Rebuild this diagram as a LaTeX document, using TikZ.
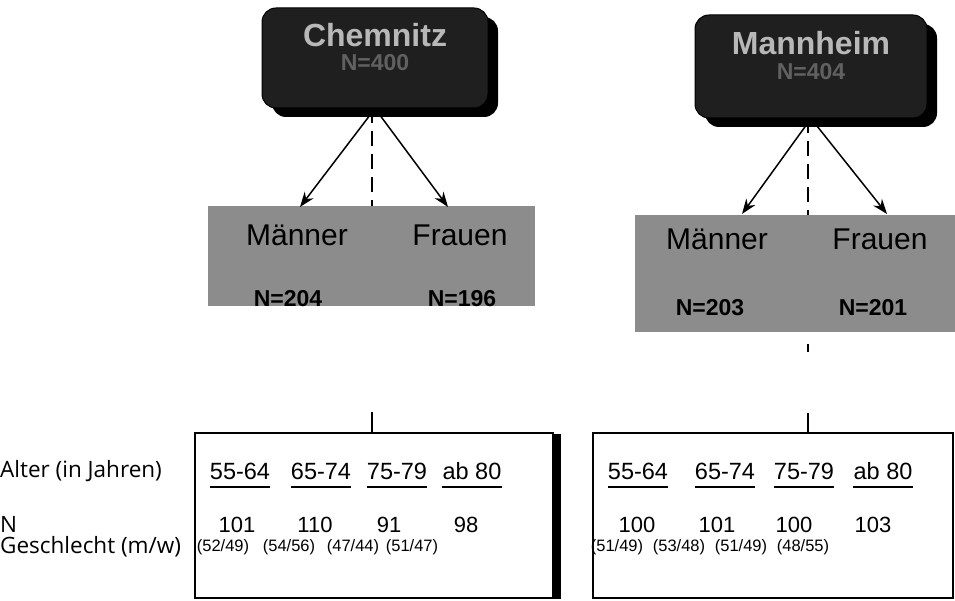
\documentclass[tikz,border=0pt]{standalone}
\usepackage{fontspec}
\setmainfont{Liberation Sans}
\newfontfamily\labelfont{Open Sans}
\usetikzlibrary{arrows.meta,shadows}
\tikzset{
  cityBox/.style={rounded corners=14pt, fill=black!88, draw=black, line width=1pt,
    minimum width=226pt, minimum height=100pt, inner sep=0pt,
    drop shadow={shadow xshift=10pt, shadow yshift=-9pt, fill=black, opacity=1}},
  cityTitle/.style={text=black!28, inner sep=0pt, font=\fontsize{32}{36}\selectfont\bfseries},
  cityN/.style={text=black!62, inner sep=0pt, font=\fontsize{23}{26}\selectfont\bfseries},
  grayBox/.style={fill=black!45, draw=none, inner sep=0pt},
  sexText/.style={inner sep=0pt, font=\fontsize{30}{34}\selectfont},
  sexN/.style={inner sep=0pt, font=\fontsize{23}{26}\selectfont\bfseries},
  arr/.style={-{Stealth[length=15pt,width=11pt]}, line width=1.5pt},
  dashline/.style={line width=1.6pt, dash pattern=on 15pt off 8pt},
  tabBox/.style={draw=black, line width=1.4pt, inner sep=0pt, minimum height=165pt},
  rowLabel/.style={anchor=west, inner sep=0pt, font=\labelfont\fontsize{22.5}{26}\selectfont},
  head/.style={inner sep=0pt, font=\fontsize{23.5}{27}\selectfont},
  ulLine/.style={line width=2.5pt},
  val/.style={inner sep=0pt, font=\fontsize{22}{26}\selectfont},
  par/.style={inner sep=0pt, font=\fontsize{16.5}{19}\selectfont},
}
\begin{document}
\begin{tikzpicture}[x=1pt,y=-1pt]
\useasboundingbox (0,0) rectangle (955,601);
% gray gender boxes (drawn first, dashed line goes behind)
\node[grayBox, minimum width=327pt, minimum height=100pt] (chemG) at (371.5,256) {};
\node[grayBox, minimum width=320pt, minimum height=117pt] (mannG) at (795,273.5) {};
% city boxes
\node[cityBox] (chem) at (375,58) {};
\node[cityTitle] (chemT) at (375,35) {Chemnitz};
\node[cityN] (chemN) at (375,63) {N=400};
\node[cityBox, minimum width=232pt, minimum height=103pt] (mann) at (811,66.5) {};
\node[cityTitle] (mannT) at (811,43) {Mannheim};
\node[cityN] (mannN) at (811,72) {N=404};
% gender texts
\node[sexText] (chemM) at (297,235) {Männer};
\node[sexText] (chemF) at (460,235) {Frauen};
\node[sexN] (chemMN) at (288,299) {N=204};
\node[sexN] (chemFN) at (462,299) {N=196};
\node[sexText] (mannM) at (717,239) {Männer};
\node[sexText] (mannF) at (880,239) {Frauen};
\node[sexN] (mannMN) at (710,308) {N=203};
\node[sexN] (mannFN) at (873,308) {N=201};
% arrow targets
\coordinate (chemMa) at (300,207);
\coordinate (chemFa) at (448,207);
\coordinate (mannMa) at (742,214);
\coordinate (mannFa) at (887,214);
\draw[arr] (chem.south) -- (chemMa);
\draw[arr] (chem.south) -- (chemFa);
\draw[arr] (mann.south) -- (mannMa);
\draw[arr] (mann.south) -- (mannFa);
% tables
\node[tabBox, minimum width=358pt] (tabL) at (374,515.5) {};
\draw[line width=7pt] ([xshift=3.5pt,yshift=-2pt]tabL.north east) -- ([xshift=3.5pt]tabL.south east);
\node[tabBox, minimum width=360pt] (tabR) at (773,515.5) {};
% dashed lines
\coordinate (chemD) at (372,108);
\coordinate (mannD) at (808,118);
\draw[dashline] (chemD) -- (chemD |- chemG.north);
\draw[dashline] (mannD) -- (mannD |- mannG.north);
\coordinate (chemL1) at (372,412);
\draw[line width=1.5pt] (chemL1) -- (chemL1 |- tabL.north);
\coordinate (mannL0) at (808,344);
\draw[line width=1.5pt] (mannL0) -- ++(0,8);
\coordinate (mannL1) at (808,413);
\draw[line width=1.5pt] (mannL1) -- (mannL1 |- tabR.north);
% row labels
\node[rowLabel] (lAlter) at (0,471) {Alter (in Jahren)};
\node[rowLabel] (lN) at (0,524) {N};
\node[rowLabel] (lG) at (0,547) {Geschlecht (m/w)};
\coordinate (ulY) at (0,487);
% left table
\node[head] (hL1) at (240,471) {55-64};
\node[head] (hL2) at (321,471) {65-74};
\node[head] (hL3) at (397,471) {75-79};
\node[head] (hL4) at (472,471) {ab 80};
\foreach \h in {hL1,hL2,hL3,hL4}
  \draw[ulLine] (\h.west |- ulY) -- (\h.east |- ulY);
\node[val] (vL1) at (237,525) {101};
\node[val] (vL2) at (315,525) {110};
\node[val] (vL3) at (389,525) {91};
\node[val] (vL4) at (466,525) {98};
\node[par] (pL1) at (223,547) {(52/49)};
\node[par] (pL2) at (289,547) {(54/56)};
\node[par] (pL3) at (353,547) {(47/44)};
\node[par] (pL4) at (412,547) {(51/47)};
% right table
\node[head] (hR1) at (638,471) {55-64};
\node[head] (hR2) at (725,471) {65-74};
\node[head] (hR3) at (804,471) {75-79};
\node[head] (hR4) at (883,471) {ab 80};
\foreach \h in {hR1,hR2,hR3,hR4}
  \draw[ulLine] (\h.west |- ulY) -- (\h.east |- ulY);
\node[val] (vR1) at (637,525) {100};
\node[val] (vR2) at (717,525) {101};
\node[val] (vR3) at (794,525) {100};
\node[val] (vR4) at (873,525) {103};
\node[par] (pR1) at (617,547) {(51/49)};
\node[par] (pR2) at (679,547) {(53/48)};
\node[par] (pR3) at (741,547) {(51/49)};
\node[par] (pR4) at (803,547) {(48/55)};
\end{tikzpicture}
\end{document}
